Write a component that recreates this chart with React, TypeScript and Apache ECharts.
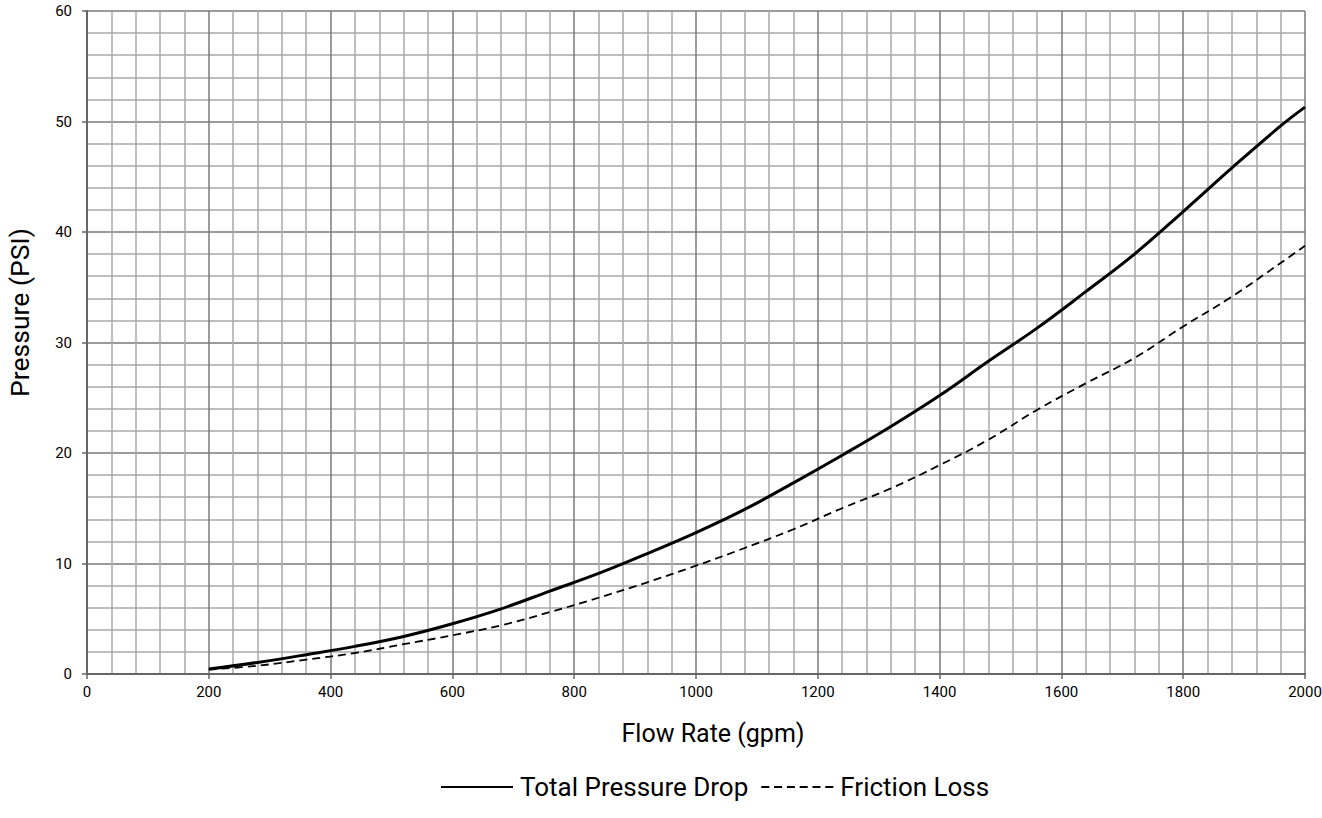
import React, { useEffect, useRef } from "react";
import * as echarts from "echarts";

const flowRate = [200, 280, 360, 440, 520, 600, 680, 760, 840, 920, 1000, 1080, 1160, 1240, 1320, 1400, 1480, 1560, 1640, 1720, 1800, 1880, 1960, 2000];

const totalPressureDrop = [0.45, 1.05, 1.75, 2.5, 3.4, 4.55, 5.9, 7.5, 9.1, 10.9, 12.8, 14.9, 17.3, 19.8, 22.4, 25.2, 28.3, 31.3, 34.6, 38.0, 41.85, 45.8, 49.6, 51.3];

const frictionLoss = [0.4, 0.75, 1.3, 1.9, 2.7, 3.5, 4.4, 5.6, 6.9, 8.3, 9.8, 11.4, 13.1, 15.0, 16.8, 18.9, 21.2, 23.9, 26.3, 28.6, 31.45, 34.15, 37.2, 38.75];

const seriesNames = ["Total Pressure Drop", "Friction Loss"];
const xAxisName = "Flow Rate (gpm)";
const yAxisName = "Pressure (PSI)";

const FONT = "Roboto, 'Liberation Sans', sans-serif";

const SOLID_ICON = "path://M0,0H72V2H0Z";
const DASHED_ICON =
  "path://M0,0H8V2H0Z M12.8,0H20.8V2H12.8Z M25.6,0H33.6V2H25.6Z M38.4,0H46.4V2H38.4Z M51.2,0H59.2V2H51.2Z M64,0H72V2H64Z";

export default function App() {
  const ref = useRef<HTMLDivElement>(null);
  useEffect(() => {
    if (!ref.current) return;
    const chart = echarts.init(ref.current, undefined, { renderer: "svg" });
    chart.setOption({
      animation: false,
      backgroundColor: "#ffffff",
      textStyle: { fontFamily: FONT },
      grid: {
        left: 87,
        right: 17,
        top: 11,
        bottom: 144,
        containLabel: false,
        outerBoundsMode: "none",
      },
      legend: {
        top: 769,
        left: 436,
        itemWidth: 76,
        itemHeight: 2,
        itemGap: 13,
        textStyle: { fontFamily: FONT, fontSize: 26, color: "#000" },
        data: [
          { name: seriesNames[0], icon: SOLID_ICON, itemStyle: { color: "#000" } },
          { name: seriesNames[1], icon: DASHED_ICON, itemStyle: { color: "#000" } },
        ],
      },
      xAxis: {
        type: "value",
        min: 0,
        max: 2000,
        interval: 200,
        name: xAxisName,
        nameLocation: "middle",
        nameGap: 47,
        nameTextStyle: { fontFamily: FONT, fontSize: 25, color: "#000", padding: [0, 0, 0, 34] },
        axisLine: { show: true, lineStyle: { color: "#666", width: 2 } },
        axisTick: { show: true, length: 5, lineStyle: { color: "#666", width: 1.5 } },
        axisLabel: {
          fontFamily: FONT,
          fontSize: 15,
          color: "#000",
          margin: 10,
          formatter: (v: number) => String(v),
        },
        splitLine: { show: true, lineStyle: { color: "#7a7a7a", width: 1.5 } },
        minorTick: { show: false, splitNumber: 5 },
        minorSplitLine: { show: true, lineStyle: { color: "#a8a8a8", width: 1.5 } },
      },
      yAxis: {
        type: "value",
        min: 0,
        max: 60,
        interval: 10,
        name: yAxisName,
        nameLocation: "middle",
        nameGap: 54,
        nameTextStyle: { fontFamily: FONT, fontSize: 26.5, color: "#000", padding: [0, 0, 0, 60] },
        axisLine: { show: true, lineStyle: { color: "#666", width: 2 } },
        axisTick: { show: true, length: 5, lineStyle: { color: "#666", width: 1.5 } },
        axisLabel: { fontFamily: FONT, fontSize: 15, color: "#000", margin: 15 },
        splitLine: { show: true, lineStyle: { color: "#7a7a7a", width: 1.5 } },
        minorTick: { show: false, splitNumber: 5 },
        minorSplitLine: { show: true, lineStyle: { color: "#a8a8a8", width: 1.5 } },
      },
      series: [
        {
          name: seriesNames[0],
          type: "line",
          data: flowRate.map((x, i) => [x, totalPressureDrop[i]]),
          smooth: 0.4,
          symbol: "none",
          lineStyle: { color: "#000", width: 3 },
          itemStyle: { color: "#000" },
          z: 5,
        },
        {
          name: seriesNames[1],
          type: "line",
          data: flowRate.map((x, i) => [x, frictionLoss[i]]),
          smooth: 0.4,
          symbol: "none",
          lineStyle: { color: "#000", width: 1.8, type: [8, 5] },
          itemStyle: { color: "#000" },
          z: 5,
        },
      ],
    });
    return () => chart.dispose();
  }, []);
  return (
    <div
      ref={ref}
      style={{ position: "fixed", left: 0, top: 0, width: 1322, height: 818, background: "#fff" }}
    />
  );
}
